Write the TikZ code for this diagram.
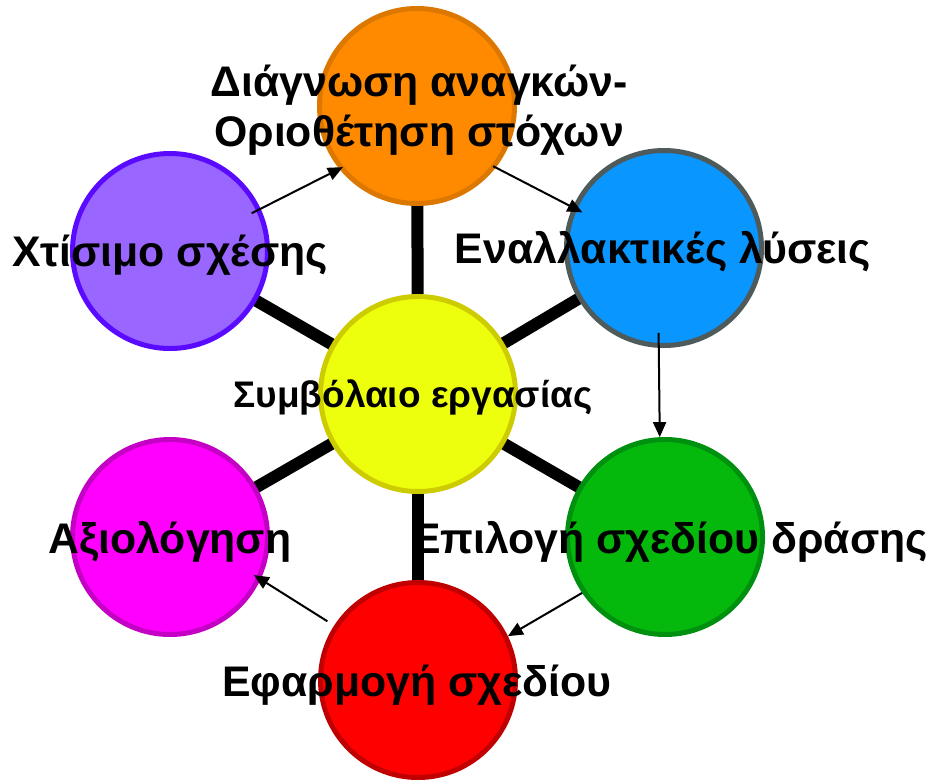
\documentclass[tikz,border=0pt]{standalone}
\usepackage{fontspec}
\setmainfont{Liberation Sans}
\usetikzlibrary{arrows.meta}
\definecolor{orfill}{HTML}{FF8A00}\definecolor{ordraw}{HTML}{DC7800}
\definecolor{pufill}{HTML}{9966FF}\definecolor{pudraw}{HTML}{5A0AFF}
\definecolor{blfill}{HTML}{0A96FF}\definecolor{bldraw}{HTML}{4F5A5A}
\definecolor{yefill}{HTML}{EEFF0E}\definecolor{yedraw}{HTML}{CCCC00}
\definecolor{grfill}{HTML}{05B90C}\definecolor{grdraw}{HTML}{009010}
\definecolor{mafill}{HTML}{FF00FF}\definecolor{madraw}{HTML}{C400C4}
\definecolor{refill}{HTML}{FF0000}\definecolor{redraw}{HTML}{C00000}
\begin{document}
\begin{tikzpicture}[x=1pt,y=-1pt,
  bub/.style={circle, minimum size=195pt, inner sep=0pt, line width=5pt},
  spoke/.style={line width=12pt},
  flow/.style={line width=2pt, -{Triangle[length=15pt,width=13pt]}},
  lbl/.style={font=\fontsize{42.8}{50}\selectfont\bfseries, align=center, inner sep=0pt},
  slbl/.style={font=\fontsize{37}{44}\selectfont\bfseries, align=center, inner sep=0pt}]
\useasboundingbox (0,0) rectangle (928,779);
% positions
\coordinate (cY) at (418,394);
\coordinate (cO) at (417,106);
\coordinate (cP) at (170,251);
\coordinate (cB) at (664,248);
\coordinate (cG) at (665,537);
\coordinate (cM) at (170,537);
\coordinate (cR) at (418,680);
% spokes
\foreach \c in {cO,cP,cB,cG,cM,cR} \draw[spoke] (cY) -- (\c);
% circles
\node[bub, fill=yefill, draw=yedraw] (yellow) at (cY) {};
\node[bub, fill=orfill, draw=ordraw] (orange) at (cO) {};
\node[bub, fill=pufill, draw=pudraw] (purple) at (cP) {};
\node[bub, fill=blfill, draw=bldraw] (blue) at (cB) {};
\node[bub, fill=grfill, draw=grdraw] (green) at (cG) {};
\node[bub, fill=mafill, draw=madraw] (magenta) at (cM) {};
\node[bub, fill=refill, draw=redraw] (red) at (cR) {};
% arrows
\draw[flow, shorten <=-10pt, shorten >=-4pt] (purple.25) -- (orange.219);
\draw[flow, shorten <=-3pt, shorten >=-11pt] (orange.-38) -- (blue.156);
\draw[flow, shorten <=-15pt] (blue.-93) -- (green.93);
\draw[flow] (green.214) -- (red.26);
\draw[flow, shorten <=8pt, shorten >=-8pt] (red.147) -- (magenta.-25);
% labels
\node[lbl] (tO) at (419,110) {Διάγνωση αναγκών-\\Οριοθέτηση στόχων};
\node[lbl] (tP) at (170,255) {Χτίσιμο σχέσης};
\node[lbl] (tB) at (663,252) {Εναλλακτικές λύσεις};
\node[slbl] (tY) at (413,397) {Συμβόλαιο εργασίας};
\node[lbl] (tG) at (670,542) {Επιλογή σχεδίου δράσης};
\node[lbl] (tM) at (170,542) {Αξιολόγηση};
\node[lbl] (tR) at (417,685) {Εφαρμογή σχεδίου};
\end{tikzpicture}
\end{document}
